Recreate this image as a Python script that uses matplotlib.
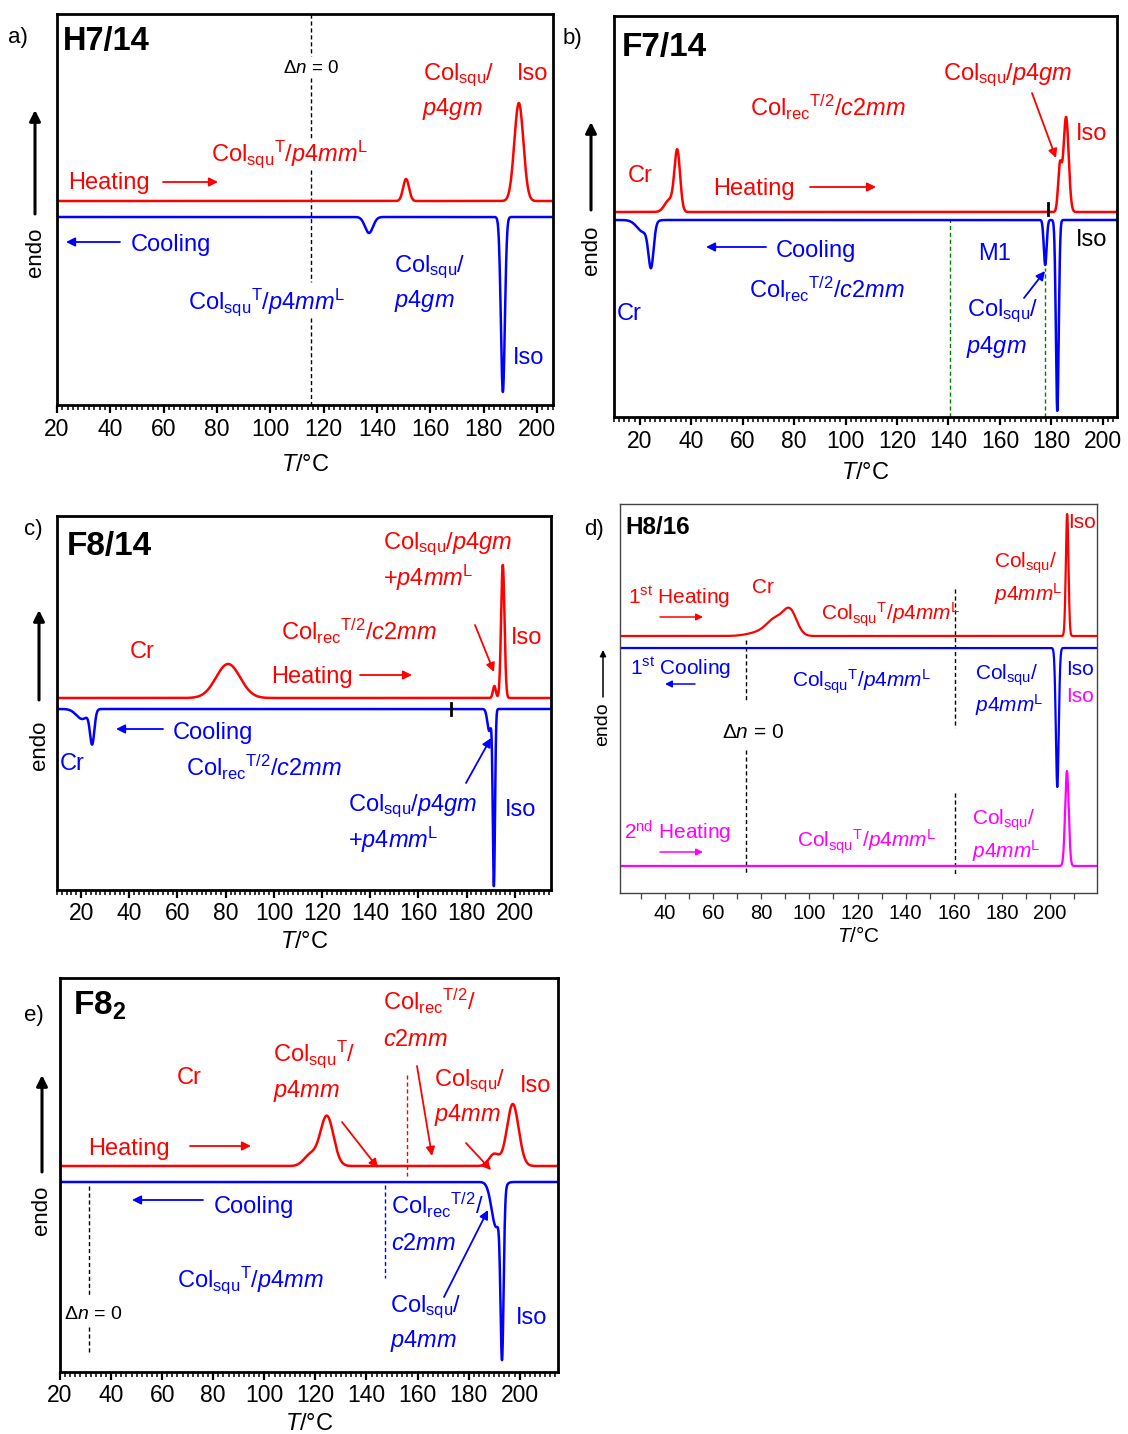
import numpy as np
import matplotlib
matplotlib.use("Agg")
import matplotlib.pyplot as plt
from matplotlib.ticker import MultipleLocator
from matplotlib.patches import FancyArrowPatch

W, H = 1128, 1434
plt.rcParams['font.family'] = ['Liberation Sans', 'DejaVu Sans']
plt.rcParams['mathtext.fontset'] = 'custom'
plt.rcParams['mathtext.rm'] = 'Liberation Sans'
plt.rcParams['mathtext.it'] = 'Liberation Sans:italic'
plt.rcParams['mathtext.bf'] = 'Liberation Sans:bold'
plt.rcParams['mathtext.sf'] = 'Liberation Sans'

RED, BLUE, MAG, GREEN = '#ff0000', '#0000ff', '#ff00ff', '#008000'

# ---------------- DSC peak data (T in °C, amplitude in arb. units, width in °C) ----
# a) H7/14
a_heat_T = [150.9, 193.2]
a_heat_A = [22, 98]
a_heat_w = [1.1, 1.7]
a_cool_T = [137.0, 187.2]
a_cool_A = [16, 175]
a_cool_w = [1.5, 0.75]
a_dn0_T = 115.3

# b) F7/14
b_heat_T = [31.5, 34.6, 183.3, 185.7]
b_heat_A = [12, 60, 45, 95]
b_heat_w = [1.8, 1.1, 0.7, 1.0]
b_cool_T = [21.5, 24.4, 177.6, 182.3]
b_cool_A = [12, 42, 45, 191]
b_cool_w = [2.5, 1.0, 0.55, 0.55]
b_mark_T = 178.7
b_guide_T = [140.6, 177.6]

# c) F8/14
c_heat_T = [81.0, 191.5, 195.0]
c_heat_A = [34, 12, 133]
c_heat_w = [5.0, 0.6, 0.7]
c_cool_T = [20.5, 24.6, 189.4, 191.3]
c_cool_A = [10, 33, 22, 176]
c_cool_w = [2.5, 0.9, 0.8, 0.45]
c_mark_T = 173.3

# d) H8/16
d_heat1_T = [80.0, 86.0, 92.0, 207.1]
d_heat1_A = [4, 15, 24, 122]
d_heat1_w = [5.0, 3.5, 2.8, 0.55]
d_cool_T = [203.0]
d_cool_A = [139]
d_cool_w = [0.6]
d_heat2_T = [207.0]
d_heat2_A = [95]
d_heat2_w = [0.75]
d_guide_T = [73.7, 160.5]

# e) F8_2
e_heat_T = [118.0, 124.5, 190.0, 197.3]
e_heat_A = [11, 50, 12, 62]
e_heat_w = [2.5, 2.6, 2.0, 2.3]
e_cool_T = [190.8, 193.1]
e_cool_A = [45, 158]
e_cool_w = [1.8, 0.6]
e_guide_T = [155.8, 147.2, 31.3]

fig = plt.figure(figsize=(W / 100, H / 100), dpi=100)


def trace(T, base, centres, amps, widths, sign=1):
    y = np.full_like(T, float(base))
    for c, a, w in zip(centres, amps, widths):
        y += sign * a * np.exp(-0.5 * ((T - c) / w) ** 2)
    return y


def panel(l, t, r, b, xlim, minor=2, lw=2.0, fc='black', tsize=16.5, thin=False, lpad=4):
    ax = fig.add_axes([l / W, 1 - b / H, (r - l) / W, (b - t) / H])
    ax.set_xlim(*xlim)
    ax.set_ylim(0, b - t)
    ax.xaxis.set_major_locator(MultipleLocator(20))
    ax.xaxis.set_minor_locator(MultipleLocator(minor))
    for s in ax.spines.values():
        s.set_linewidth(lw)
        s.set_color(fc)
    if thin:
        ax.tick_params(axis='x', which='major', direction='out', length=4, width=0.9,
                       labelsize=tsize, pad=4, color=fc)
        ax.tick_params(axis='x', which='minor', direction='out', length=4, width=0.9, color=fc)
    else:
        ax.tick_params(axis='x', which='major', direction='out', length=6, width=1.6,
                       labelsize=tsize, pad=3)
        ax.tick_params(axis='x', which='minor', direction='out', length=3.5, width=1.1)
    ax.tick_params(axis='y', left=False, labelleft=False)
    ax.set_xlabel(r'$\mathit{T}$/°C', fontsize=tsize + 0.5, labelpad=lpad)
    return ax


def line(ax, base, T, A, w, color, sign=1, lw=1.8):
    x = np.linspace(*ax.get_xlim(), 4000)
    ax.plot(x, trace(x, base, T, A, w, sign), color=color, lw=lw, solid_capstyle='butt')


def label(x, y, s, color='black', size=17, ha='left', **kw):
    fig.text(x / W, 1 - (y + 0.36 * size * 100 / 72) / H, s, color=color,
             fontsize=size, ha=ha, va='baseline', **kw)


def arrow(x0, y0, x1, y1, color, lw=1.3, ms=13):
    fig.add_artist(FancyArrowPatch((x0 / W, 1 - y0 / H), (x1 / W, 1 - y1 / H),
                                   transform=fig.transFigure, arrowstyle='-|>',
                                   mutation_scale=ms, color=color, lw=lw,
                                   shrinkA=0, shrinkB=0))


def endo(x, y_tail, y_head, y_text, size=16):
    arrow(x, y_tail, x, y_head, 'black', lw=2.2, ms=16)
    fig.text(x / W, 1 - y_text / H, 'endo', rotation=90, ha='center', va='center',
             fontsize=size)


def vdash(ax, T, segs, bottom_px, color='black', lw=1.0):
    for y0, y1 in segs:
        ax.plot([T, T], [bottom_px - y0, bottom_px - y1], color=color, lw=lw,
                ls=(0, (3, 2)))


SQU = r'Col$_{\mathrm{squ}}$'
SQU_T = r'Col$_{\mathrm{squ}}$$^{\mathrm{T}}$'
REC = r'Col$_{\mathrm{rec}}$$^{\mathrm{T/2}}$'
DN0 = r'$\Delta\mathit{n}$ = 0'

# ---------------- a) H7/14 ----------------
ax = panel(57, 14, 553, 405, (20, 206), lpad=9.5)
vdash(ax, a_dn0_T, [(14, 56), (78, 138), (170, 282), (318, 405)], 405)
line(ax, 204, a_heat_T, a_heat_A, a_heat_w, RED)
line(ax, 188, a_cool_T, a_cool_A, a_cool_w, BLUE, sign=-1)
label(8, 35, 'a)', size=16)
label(63, 38, 'H7/14', size=23.5, fontweight='bold')
label(311, 66, DN0, size=13.5, ha='center')
label(423, 72, SQU + '/', RED)
label(422, 106, r'$\mathit{p4gm}$', RED)
label(517, 72, 'Iso', RED)
label(211, 152, SQU_T + r'/$\mathit{p4mm}$$^{\mathrm{L}}$', RED)
label(68, 181, 'Heating', RED)
arrow(163, 182, 218, 182, RED)
arrow(120, 242, 66, 242, BLUE)
label(131, 243, 'Cooling', BLUE)
label(394, 264, SQU + '/', BLUE)
label(394, 298, r'$\mathit{p4gm}$', BLUE)
label(188, 300, SQU_T + r'/$\mathit{p4mm}$$^{\mathrm{L}}$', BLUE)
label(513, 356, 'Iso', BLUE)
endo(35, 214, 110, 252)

# ---------------- b) F7/14 ----------------
ax = panel(614, 16, 1117, 417, (10, 205.5), lpad=7)
for T, top in zip(b_guide_T, [220, 268]):
    ax.plot([T, T], [0, 417 - top], color=GREEN, lw=1.0, ls=(0, (3, 2)))
line(ax, 205, b_heat_T, b_heat_A, b_heat_w, RED)
line(ax, 197, b_cool_T, b_cool_A, b_cool_w, BLUE, sign=-1)
ax.plot([b_mark_T, b_mark_T], [417 - 203, 417 - 215], color='black', lw=2.0)
label(563, 36, 'b)', size=16)
label(622, 44, 'F7/14', size=24, fontweight='bold')
label(750, 107, REC + r'/$\mathit{c2mm}$', RED)
label(943, 72, SQU + r'/$\mathit{p4gm}$', RED)
arrow(1032, 93, 1056, 158, RED)
label(1076, 132, 'Iso', RED)
label(628, 173, 'Cr', RED)
label(713, 187, 'Heating', RED)
arrow(810, 187, 876, 187, RED)
label(1076, 238, 'Iso', 'black')
arrow(766, 247, 706, 247, BLUE)
label(776, 248, 'Cooling', BLUE)
label(978, 252, 'M1', BLUE)
label(749, 290, REC + r'/$\mathit{c2mm}$', BLUE)
label(617, 311, 'Cr', BLUE)
label(967, 308, SQU + '/', BLUE)
label(966, 344, r'$\mathit{p4gm}$', BLUE)
arrow(1024, 298, 1045, 271, BLUE)
endo(591, 210, 122, 250)

# ---------------- c) F8/14 ----------------
ax = panel(57, 516, 551, 890, (10, 215))
line(ax, 192, c_heat_T, c_heat_A, c_heat_w, RED)
line(ax, 181, c_cool_T, c_cool_A, c_cool_w, BLUE, sign=-1)
ax.plot([c_mark_T, c_mark_T], [890 - 703, 890 - 715], color='black', lw=2.0)
label(24, 527, 'c)', size=16)
label(67, 543, 'F8/14', size=24, fontweight='bold')
label(383, 541, SQU + r'/$\mathit{p4gm}$', RED)
label(383, 577, r'+$\mathit{p4mm}$$^{\mathrm{L}}$', RED)
label(281, 631, REC + r'/$\mathit{c2mm}$', RED)
label(130, 650, 'Cr', RED)
arrow(475, 625, 494, 672, RED)
label(511, 636, 'Iso', RED)
label(271, 675, 'Heating', RED)
arrow(360, 675, 412, 675, RED)
arrow(163, 729, 116, 729, BLUE)
label(173, 730, 'Cooling', BLUE)
label(60, 762, 'Cr', BLUE)
label(186, 767, REC + r'/$\mathit{c2mm}$', BLUE)
label(348, 803, SQU + r'/$\mathit{p4gm}$', BLUE)
label(348, 839, r'+$\mathit{p4mm}$$^{\mathrm{L}}$', BLUE)
arrow(466, 783, 491, 738, BLUE)
label(505, 807, 'Iso', BLUE)
endo(39, 700, 610, 745)

# ---------------- d) H8/16 ----------------
ax = panel(620, 504, 1097, 893, (21.3, 219.5), minor=10, lw=1.0, fc='#444444',
           tsize=14.5, thin=True, lpad=2)
vdash(ax, d_guide_T[0], [(640, 702), (750, 873)], 893)
vdash(ax, d_guide_T[1], [(589, 728), (793, 874)], 893)
line(ax, 257, d_heat1_T, d_heat1_A, d_heat1_w, RED, lw=1.6)
line(ax, 245, d_cool_T, d_cool_A, d_cool_w, BLUE, sign=-1, lw=1.6)
line(ax, 27, d_heat2_T, d_heat2_A, d_heat2_w, MAG, lw=1.6)
ds = 15
label(584, 527, 'd)', size=16)
label(625, 525, 'H8/16', size=17.5, fontweight='bold')
label(1068, 521, 'Iso', RED, size=ds)
label(994, 560, SQU + '/', RED, size=ds)
label(994, 593, r'$\mathit{p4mm}$$^{\mathrm{L}}$', RED, size=ds)
label(752, 586, 'Cr', RED, size=ds)
label(628, 597, r'1$^{\mathrm{st}}$ Heating', RED, size=ds)
arrow(660, 617, 703, 617, RED, lw=1.1, ms=10)
label(821, 613, SQU_T + r'/$\mathit{p4mm}$$^{\mathrm{L}}$', RED, size=ds)
label(630, 668, r'1$^{\mathrm{st}}$ Cooling', BLUE, size=ds)
arrow(695, 684, 665, 684, BLUE, lw=1.1, ms=10)
label(792, 680, SQU_T + r'/$\mathit{p4mm}$$^{\mathrm{L}}$', BLUE, size=ds)
label(975, 672, SQU + '/', BLUE, size=ds)
label(975, 704, r'$\mathit{p4mm}$$^{\mathrm{L}}$', BLUE, size=ds)
label(1066, 668, 'Iso', BLUE, size=ds)
label(1066, 694, 'Iso', MAG, size=ds)
label(722, 730, DN0, size=ds)
label(624, 832, r'2$^{\mathrm{nd}}$ Heating', MAG, size=ds)
arrow(660, 852, 703, 852, MAG, lw=1.1, ms=10)
label(797, 840, SQU_T + r'/$\mathit{p4mm}$$^{\mathrm{L}}$', MAG, size=ds)
label(972, 817, SQU + '/', MAG, size=ds)
label(972, 850, r'$\mathit{p4mm}$$^{\mathrm{L}}$', MAG, size=ds)
arrow(603, 697, 603, 650, 'black', lw=1.1, ms=9)
fig.text(603 / W, 1 - 724 / H, 'endo', rotation=90, ha='center', va='center', fontsize=14)

# ---------------- e) F8_2 ----------------
ax = panel(60, 978, 558, 1372, (20, 215))
vdash(ax, e_guide_T[0], [(1075, 1176)], 1372, color=RED)
vdash(ax, e_guide_T[1], [(1185, 1278)], 1372, color=BLUE)
vdash(ax, e_guide_T[2], [(1186, 1295), (1327, 1352)], 1372)
line(ax, 206, e_heat_T, e_heat_A, e_heat_w, RED)
line(ax, 190, e_cool_T, e_cool_A, e_cool_w, BLUE, sign=-1)
label(24, 1013, 'e)', size=16)
label(73, 1003, r'F8$_{\mathbf{2}}$', size=24, fontweight='bold')
label(383, 1002, REC + '/', RED)
label(383, 1038, r'$\mathit{c2mm}$', RED)
label(273, 1052, SQU_T + '/', RED)
label(273, 1088, r'$\mathit{p4mm}$', RED)
label(177, 1076, 'Cr', RED)
label(434, 1078, SQU + '/', RED)
label(434, 1112, r'$\mathit{p4mm}$', RED)
label(520, 1084, 'Iso', RED)
arrow(342, 1122, 378, 1168, RED)
arrow(417, 1066, 432, 1156, RED)
arrow(466, 1143, 491, 1170, RED)
label(88, 1146, 'Heating', RED)
arrow(190, 1146, 251, 1146, RED)
arrow(203, 1200, 132, 1200, BLUE)
label(214, 1204, 'Cooling', BLUE)
label(391, 1206, REC + '/', BLUE)
label(391, 1241, r'$\mathit{c2mm}$', BLUE)
label(177, 1279, SQU_T + r'/$\mathit{p4mm}$', BLUE)
arrow(444, 1297, 488, 1210, BLUE)
label(64, 1312, DN0, size=14)
label(390, 1304, SQU + '/', BLUE)
label(390, 1339, r'$\mathit{p4mm}$', BLUE)
label(516, 1316, 'Iso', BLUE)
endo(42, 1172, 1075, 1210)

fig.savefig('out.png', dpi=100)
